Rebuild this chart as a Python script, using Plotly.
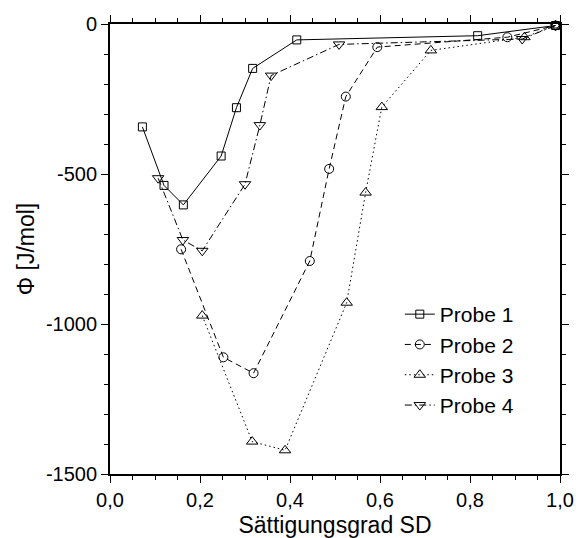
import plotly.graph_objects as go

names = ["Probe 1", "Probe 2", "Probe 3", "Probe 4"]

sd_p1 = [0.072, 0.120, 0.163, 0.247, 0.281, 0.317, 0.415, 0.817, 0.990]
phi_p1 = [-343, -538, -603, -440, -279, -148, -53, -39, -5]

sd_p2 = [0.158, 0.252, 0.319, 0.444, 0.487, 0.524, 0.594, 0.883, 0.990]
phi_p2 = [-751, -1111, -1164, -790, -483, -242, -77, -44, -5]

sd_p3 = [0.205, 0.316, 0.389, 0.526, 0.568, 0.604, 0.713, 0.921, 0.990]
phi_p3 = [-972, -1392, -1421, -929, -562, -277, -88, -44, -5]

sd_p4 = [0.107, 0.162, 0.205, 0.300, 0.333, 0.358, 0.509, 0.916, 0.990]
phi_p4 = [-514, -720, -756, -534, -337, -172, -68, -50, -5]

x_tickvals = [0.0, 0.2, 0.4, 0.6, 0.8, 1.0]
x_ticktext = ["0,0", "0,2", "0,4", "0,6", "0,8", "1,0"]
y_tickvals = [0, -500, -1000, -1500]
y_ticktext = ["0", "-500", "-1000", "-1500"]

series = [
    (sd_p1, phi_p1, "solid", "square-open", 8),
    (sd_p2, phi_p2, "6px,4px", "circle-open", 9),
    (sd_p3, phi_p3, "1.5px,3px", "triangle-up-open", 10),
    (sd_p4, phi_p4, "7px,3px,1.5px,3px", "triangle-down-open", 10),
]

FONT = "Liberation Sans, Arial, Helvetica, sans-serif"

fig = go.Figure()
for name, (xs, ys, dash, sym, sz) in zip(names, series):
    fig.add_trace(go.Scatter(
        x=xs, y=ys, name=name, mode="lines+markers",
        line=dict(color="black", width=1, dash=dash),
        marker=dict(symbol=sym, size=sz, color="black", line=dict(width=1, color="black")),
        cliponaxis=False,
    ))

axis_common = dict(
    showline=True, linecolor="black", linewidth=1.8, mirror="ticks",
    ticks="outside", ticklen=7, tickwidth=1.3, tickcolor="black",
    showgrid=False, zeroline=False,
    tickfont=dict(family=FONT, size=20, color="black"),
)

fig.update_xaxes(
    range=[0, 1], tickvals=x_tickvals, ticktext=x_ticktext,
    minor=dict(dtick=0.05, ticks="outside", ticklen=4, tickwidth=1.1, tickcolor="black"),
    title=dict(text="Sättigungsgrad SD", font=dict(family=FONT, size=23, color="black"), standoff=13),
    **axis_common,
)
fig.update_yaxes(
    range=[-1500, 0], tickvals=y_tickvals, ticktext=y_ticktext,
    minor=dict(dtick=100, ticks="outside", ticklen=4, tickwidth=1.1, tickcolor="black"),
    title=dict(text="Φ [J/mol]", font=dict(family=FONT, size=23, color="black"), standoff=5),
    **axis_common,
)

fig.update_layout(
    width=579, height=538,
    margin=dict(l=110, r=19, t=24, b=64, autoexpand=False),
    paper_bgcolor="white", plot_bgcolor="white",
    showlegend=True,
    legend=dict(
        x=0.644, y=0.40, xanchor="left", yanchor="top",
        bgcolor="rgba(0,0,0,0)", borderwidth=0,
        font=dict(family=FONT, size=21, color="black"),
        tracegroupgap=0, itemwidth=30,
    ),
    font=dict(family=FONT, color="black"),
)

fig.write_html("out.html")
